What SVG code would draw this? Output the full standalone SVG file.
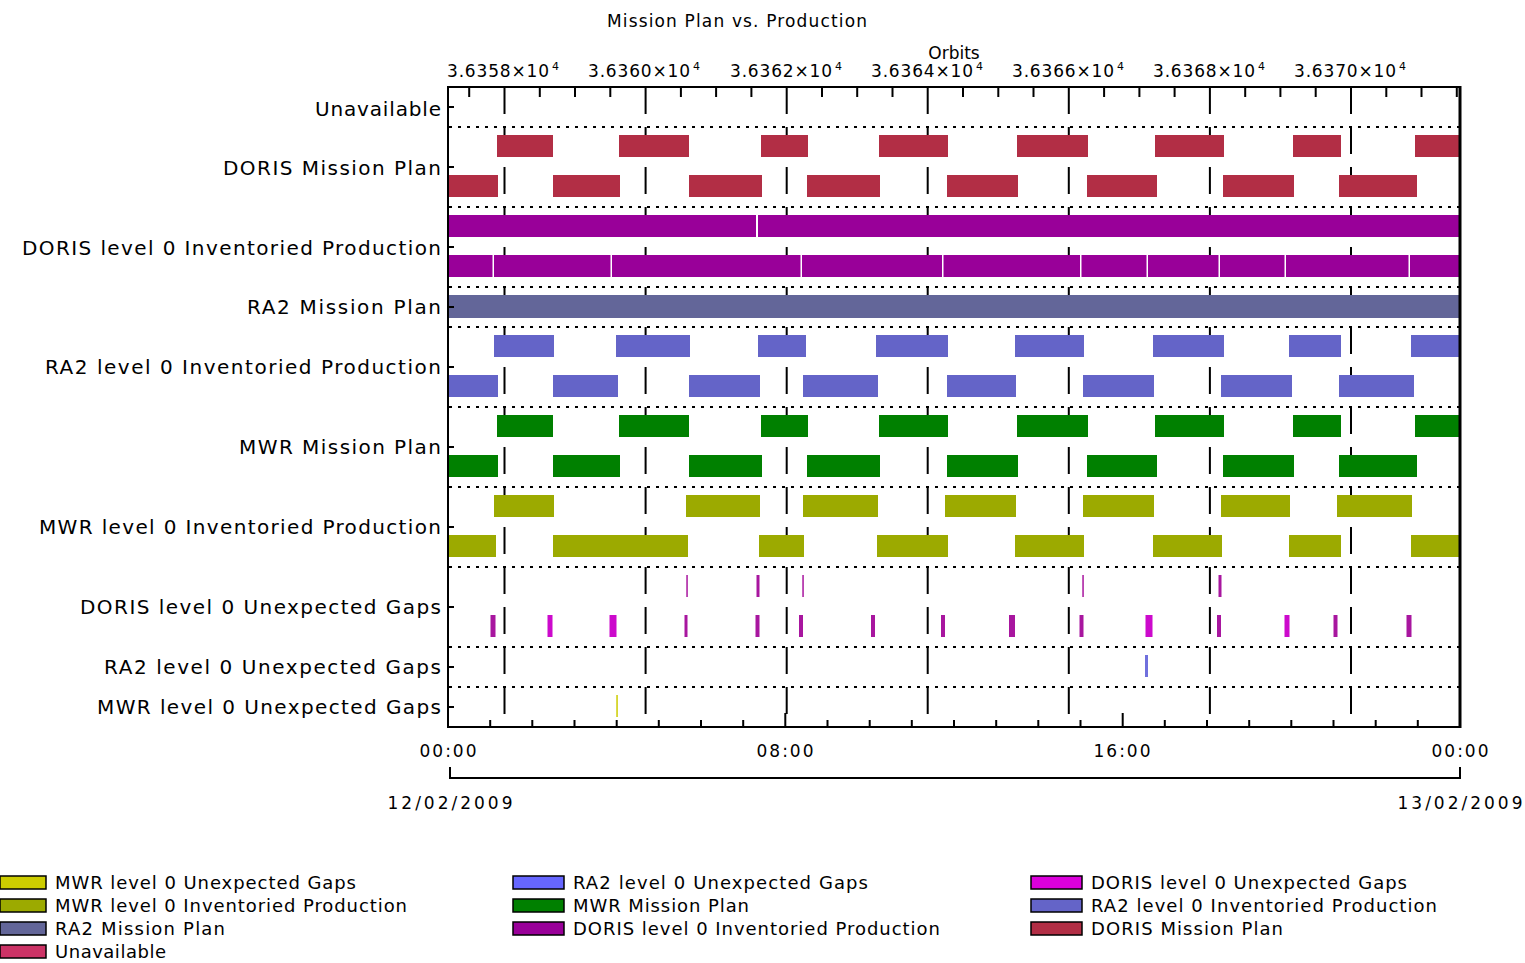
<svg xmlns="http://www.w3.org/2000/svg" xmlns:xlink="http://www.w3.org/1999/xlink" width="1525" height="963" viewBox="0 0 1525 963">
<style>
text{font-family:"DejaVu Sans","Liberation Sans",sans-serif;fill:#000}
.lbl{font-size:20px;text-anchor:end}
.tk{font-size:17px}
.sup{font-size:11px}
.lg{font-size:18px}
.dot{stroke:#000;stroke-width:2;stroke-dasharray:3 6;fill:none}
.ax{stroke:#000;stroke-width:2;fill:none}
.tick{stroke:#000;stroke-width:2}
.dmp{fill:#B22E45}
.dip{fill:#990099}
.rmp{fill:#636699}
.rip{fill:#6464C8}
.mmp{fill:#008000}
.mip{fill:#9CAA00}
.dg{fill:#A8169F}
.dgb{fill:#CC0ACC}
.rg{fill:#7070DD}
.mg{fill:#CCCC00}
.sw{stroke:#000;stroke-width:1.5}
</style>
<defs>
<path id="seg" d="M0 87v27m0 13v27m0 13v27m0 13v27m0 13v27m0 13v27m0 13v27m0 13v27m0 13v27m0 13v27m0 13v27m0 13v27m0 13v27m0 13v27m0 13v27m0 13v27" stroke="#000" stroke-width="2"/>
</defs>
<rect width="1525" height="963" fill="#fff"/>

<text x="737" y="27" class="tk" text-anchor="middle" textLength="260">Mission Plan vs. Production</text>
<text x="954" y="59" class="tk" text-anchor="middle">Orbits</text>

<g id="orbit-labels">
<text x="447" y="77" class="tk" textLength="102">3.6358×10</text><text x="552" y="70" class="sup">4</text>
<text x="588" y="77" class="tk" textLength="102">3.6360×10</text><text x="693" y="70" class="sup">4</text>
<text x="730" y="77" class="tk" textLength="102">3.6362×10</text><text x="835" y="70" class="sup">4</text>
<text x="871" y="77" class="tk" textLength="102">3.6364×10</text><text x="976" y="70" class="sup">4</text>
<text x="1012" y="77" class="tk" textLength="102">3.6366×10</text><text x="1117" y="70" class="sup">4</text>
<text x="1153" y="77" class="tk" textLength="102">3.6368×10</text><text x="1258" y="70" class="sup">4</text>
<text x="1294" y="77" class="tk" textLength="102">3.6370×10</text><text x="1399" y="70" class="sup">4</text>
</g>

<g id="row-labels">
<text x="441" y="116" class="lbl" textLength="126">Unavailable</text>
<text x="441" y="175" class="lbl" textLength="218">DORIS Mission Plan</text>
<text x="441" y="255" class="lbl" textLength="419">DORIS level 0 Inventoried Production</text>
<text x="441" y="314" class="lbl" textLength="194">RA2 Mission Plan</text>
<text x="441" y="374" class="lbl" textLength="396">RA2 level 0 Inventoried Production</text>
<text x="441" y="454" class="lbl" textLength="202">MWR Mission Plan</text>
<text x="441" y="534" class="lbl" textLength="402">MWR level 0 Inventoried Production</text>
<text x="441" y="614" class="lbl" textLength="361">DORIS level 0 Unexpected Gaps</text>
<text x="441" y="674" class="lbl" textLength="337">RA2 level 0 Unexpected Gaps</text>
<text x="441" y="714" class="lbl" textLength="344">MWR level 0 Unexpected Gaps</text>
</g>

<g id="grid">
<path class="dot" d="M449 127H1459M449 207H1459M449 287H1459M449 327H1459M449 407H1459M449 487H1459M449 567H1459M449 647H1459M449 687H1459"/>
<use xlink:href="#seg" x="504.5"/>
<use xlink:href="#seg" x="645.6"/>
<use xlink:href="#seg" x="786.7"/>
<use xlink:href="#seg" x="927.7"/>
<use xlink:href="#seg" x="1068.8"/>
<use xlink:href="#seg" x="1209.9"/>
<use xlink:href="#seg" x="1351"/>
</g>

<g id="doris-mission-plan" class="dmp">
<rect x="497" y="135" width="56" height="22"/><rect x="619" y="135" width="70" height="22"/><rect x="761" y="135" width="47" height="22"/><rect x="879" y="135" width="69" height="22"/><rect x="1017" y="135" width="71" height="22"/><rect x="1155" y="135" width="69" height="22"/><rect x="1293" y="135" width="48" height="22"/><rect x="1415" y="135" width="45" height="22"/>
<rect x="448" y="175" width="50" height="22"/><rect x="553" y="175" width="67" height="22"/><rect x="689" y="175" width="73" height="22"/><rect x="807" y="175" width="73" height="22"/><rect x="947" y="175" width="71" height="22"/><rect x="1087" y="175" width="70" height="22"/><rect x="1223" y="175" width="71" height="22"/><rect x="1339" y="175" width="78" height="22"/>
</g>

<g id="doris-l0-production" class="dip">
<rect x="448" y="215" width="308" height="22"/><rect x="758" y="215" width="702" height="22"/>
<rect x="448" y="255" width="44.5" height="22"/><rect x="494" y="255" width="116.5" height="22"/><rect x="612" y="255" width="188.5" height="22"/><rect x="802" y="255" width="140" height="22"/><rect x="943.5" y="255" width="136.5" height="22"/><rect x="1081.5" y="255" width="65" height="22"/><rect x="1148" y="255" width="70.5" height="22"/><rect x="1220" y="255" width="64.5" height="22"/><rect x="1286" y="255" width="122.5" height="22"/><rect x="1410" y="255" width="50" height="22"/>
</g>

<g id="ra2-mission-plan" class="rmp">
<rect x="448" y="295" width="1012" height="23"/>
</g>

<g id="ra2-l0-production" class="rip">
<rect x="494" y="335" width="60" height="22"/><rect x="616" y="335" width="74" height="22"/><rect x="758" y="335" width="48" height="22"/><rect x="876" y="335" width="72" height="22"/><rect x="1015" y="335" width="69" height="22"/><rect x="1153" y="335" width="71" height="22"/><rect x="1289" y="335" width="52" height="22"/><rect x="1411" y="335" width="49" height="22"/>
<rect x="448" y="375" width="50" height="22"/><rect x="553" y="375" width="65" height="22"/><rect x="689" y="375" width="71" height="22"/><rect x="803" y="375" width="75" height="22"/><rect x="947" y="375" width="69" height="22"/><rect x="1083" y="375" width="71" height="22"/><rect x="1221" y="375" width="71" height="22"/><rect x="1339" y="375" width="75" height="22"/>
</g>

<g id="mwr-mission-plan" class="mmp">
<rect x="497" y="415" width="56" height="22"/><rect x="619" y="415" width="70" height="22"/><rect x="761" y="415" width="47" height="22"/><rect x="879" y="415" width="69" height="22"/><rect x="1017" y="415" width="71" height="22"/><rect x="1155" y="415" width="69" height="22"/><rect x="1293" y="415" width="48" height="22"/><rect x="1415" y="415" width="45" height="22"/>
<rect x="448" y="455" width="50" height="22"/><rect x="553" y="455" width="67" height="22"/><rect x="689" y="455" width="73" height="22"/><rect x="807" y="455" width="73" height="22"/><rect x="947" y="455" width="71" height="22"/><rect x="1087" y="455" width="70" height="22"/><rect x="1223" y="455" width="71" height="22"/><rect x="1339" y="455" width="78" height="22"/>
</g>

<g id="mwr-l0-production" class="mip">
<rect x="494" y="495" width="60" height="22"/><rect x="686" y="495" width="74" height="22"/><rect x="803" y="495" width="75" height="22"/><rect x="945" y="495" width="71" height="22"/><rect x="1083" y="495" width="71" height="22"/><rect x="1221" y="495" width="69" height="22"/><rect x="1337" y="495" width="75" height="22"/>
<rect x="448" y="535" width="48" height="22"/><rect x="553" y="535" width="135" height="22"/><rect x="759" y="535" width="45" height="22"/><rect x="877" y="535" width="71" height="22"/><rect x="1015" y="535" width="69" height="22"/><rect x="1153" y="535" width="69" height="22"/><rect x="1289" y="535" width="52" height="22"/><rect x="1411" y="535" width="49" height="22"/>
</g>

<g id="doris-l0-gaps" class="dg">
<rect x="686.3" y="575" width="1.5" height="22"/><rect x="756.5" y="575" width="3" height="22"/><rect x="802.3" y="575" width="1.5" height="22"/><rect x="1082.3" y="575" width="1.5" height="22"/><rect x="1218.5" y="575" width="3" height="22"/>
<rect x="490.5" y="615" width="5" height="22"/><rect x="547.5" y="615" width="5" height="22" class="dgb"/><rect x="609.5" y="615" width="7" height="22" class="dgb"/><rect x="684.5" y="615" width="3" height="22"/><rect x="755.5" y="615" width="4" height="22"/><rect x="799" y="615" width="4" height="22"/><rect x="871" y="615" width="4" height="22"/><rect x="941" y="615" width="4" height="22"/><rect x="1009" y="615" width="6" height="22"/><rect x="1079.5" y="615" width="4" height="22"/><rect x="1145.5" y="615" width="7" height="22" class="dgb"/><rect x="1217" y="615" width="4" height="22"/><rect x="1284.5" y="615" width="5" height="22" class="dgb"/><rect x="1333.5" y="615" width="4" height="22"/><rect x="1406.5" y="615" width="5" height="22"/>
</g>

<g id="ra2-l0-gaps" class="rg">
<rect x="1145" y="655" width="3" height="22"/>
</g>

<g id="mwr-l0-gaps" class="mg">
<rect x="616.3" y="695" width="1.5" height="22"/>
</g>

<g id="axes">
<rect x="448" y="87" width="1012" height="640" class="ax"/>
<line x1="1460" y1="86" x2="1460" y2="728" stroke="#000" stroke-width="3"/>
<path class="tick" d="M469.2 87v10M539.8 87v10M575 87v10M610.3 87v10M680.9 87v10M716.1 87v10M751.4 87v10M822 87v10M857.2 87v10M892.5 87v10M963 87v10M998.3 87v10M1033.5 87v10M1104.1 87v10M1139.4 87v10M1174.6 87v10M1245.2 87v10M1280.4 87v10M1315.7 87v10M1386.3 87v10M1421.5 87v10M1456.8 87v10"/>
<path class="tick" d="M448 107h6M448 167h6M448 247h6M448 307h6M448 367h6M448 447h6M448 527h6M448 607h6M448 667h6M448 707h6"/>
<path class="tick" d="M490.2 727v-7M532.3 727v-7M574.5 727v-7M616.7 727v-7M658.8 727v-7M701 727v-7M743.2 727v-7M785.3 727v-14M827.5 727v-7M869.7 727v-7M911.8 727v-7M954 727v-7M996.2 727v-7M1038.3 727v-7M1080.5 727v-7M1122.7 727v-14M1164.8 727v-7M1207 727v-7M1249.2 727v-7M1291.3 727v-7M1333.5 727v-7M1375.7 727v-7M1417.8 727v-7"/>
</g>

<g id="time-axis">
<text x="448" y="757" class="tk" text-anchor="middle" textLength="57">00:00</text>
<text x="785" y="757" class="tk" text-anchor="middle" textLength="57">08:00</text>
<text x="1122" y="757" class="tk" text-anchor="middle" textLength="57">16:00</text>
<text x="1460" y="757" class="tk" text-anchor="middle" textLength="57">00:00</text>
<path d="M450 767V778H1460V767" fill="none" stroke="#000" stroke-width="2"/>
<text x="450" y="809" class="tk" text-anchor="middle" textLength="125">12/02/2009</text>
<text x="1460" y="809" class="tk" text-anchor="middle" textLength="125">13/02/2009</text>
</g>

<g id="legend">
<rect x="0" y="876" width="46" height="13" fill="#CCCC00" class="sw"/><text x="55" y="889" class="lg" textLength="301">MWR level 0 Unexpected Gaps</text>
<rect x="0" y="899" width="46" height="13" fill="#9CAA00" class="sw"/><text x="55" y="912" class="lg" textLength="352">MWR level 0 Inventoried Production</text>
<rect x="0" y="922" width="46" height="13" fill="#636699" class="sw"/><text x="55" y="935" class="lg" textLength="170">RA2 Mission Plan</text>
<rect x="0" y="945" width="46" height="13" fill="#CC3366" class="sw"/><text x="55" y="958" class="lg" textLength="111">Unavailable</text>
<rect x="513" y="876" width="51" height="13" fill="#6666FF" class="sw"/><text x="573" y="889" class="lg" textLength="295">RA2 level 0 Unexpected Gaps</text>
<rect x="513" y="899" width="51" height="13" fill="#008000" class="sw"/><text x="573" y="912" class="lg" textLength="176">MWR Mission Plan</text>
<rect x="513" y="922" width="51" height="13" fill="#990099" class="sw"/><text x="573" y="935" class="lg" textLength="367">DORIS level 0 Inventoried Production</text>
<rect x="1031" y="876" width="51" height="13" fill="#DD00DD" class="sw"/><text x="1091" y="889" class="lg" textLength="316">DORIS level 0 Unexpected Gaps</text>
<rect x="1031" y="899" width="51" height="13" fill="#6464C8" class="sw"/><text x="1091" y="912" class="lg" textLength="346">RA2 level 0 Inventoried Production</text>
<rect x="1031" y="922" width="51" height="13" fill="#B22E45" class="sw"/><text x="1091" y="935" class="lg" textLength="192">DORIS Mission Plan</text>
</g>
</svg>
